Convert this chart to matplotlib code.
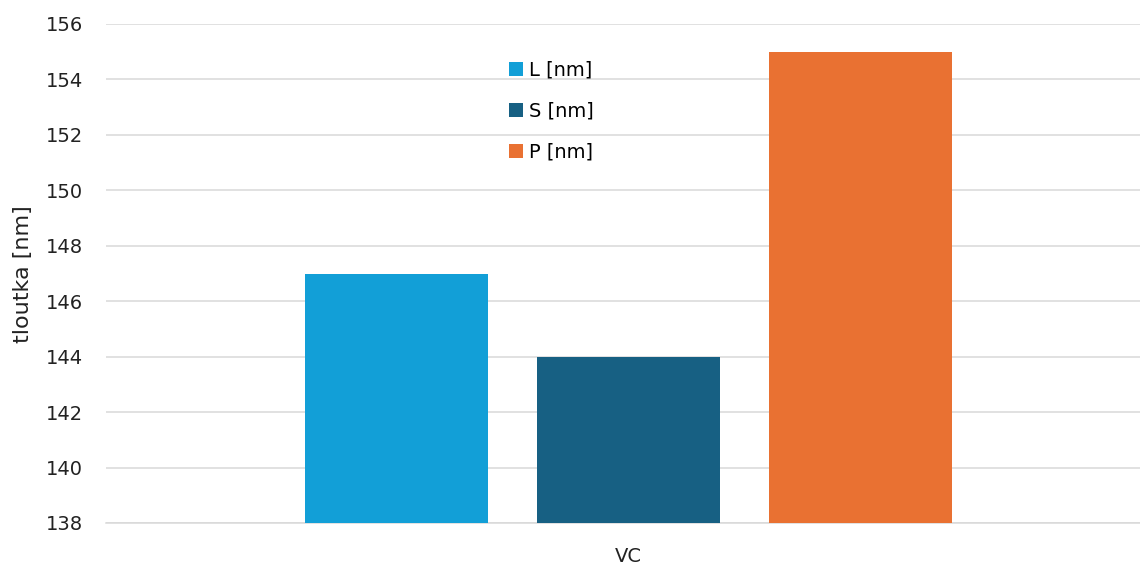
import numpy as np
import matplotlib.pyplot as plt

plt.rcParams['font.family'] = ['DejaVu Sans']

# data
category = 'VC'
series = ['L [nm]', 'S [nm]', 'P [nm]']
values = [147, 144, 155]
colors = ['#129FD7', '#176083', '#E97132']
yticks = np.arange(138, 157, 2)

fig = plt.figure(figsize=(11.4, 5.65), dpi=100)
ax = fig.add_axes([106 / 1140, 42 / 565, (1140 - 106) / 1140, (523 - 24) / 565])

offsets = np.arange(len(series)) - 1
for off, val, col, lab in zip(offsets, values, colors, series):
    ax.bar(off, val - 138, bottom=138, width=0.79, color=col, label=lab, zorder=3)

ax.set_ylim(138, 156)
ax.set_xlim(-2.252, 2.205)
ax.set_yticks(yticks)
ax.set_yticklabels([str(t) for t in yticks], fontsize=14, color='#222222')
ax.set_xticks([0])
ax.set_xticklabels([category], fontsize=14, color='#222222')
ax.tick_params(axis='y', length=0, pad=16.5)
ax.tick_params(axis='x', length=0, pad=17)
ax.yaxis.grid(True, color='#D9D9D9', linewidth=1.1, zorder=0)
for s in ['top', 'right', 'left']:
    ax.spines[s].set_visible(False)
ax.spines['bottom'].set_color('#D9D9D9')
ax.spines['bottom'].set_linewidth(1.1)

fig.text(23 / 1140, 1 - 274 / 565, 'tloutka [nm]', rotation=90, fontsize=16,
         color='#222222', ha='center', va='center')

ax.legend(loc='upper left', bbox_to_anchor=(509 / 1140, 1 - 60.5 / 565),
          bbox_transform=fig.transFigure, frameon=False, fontsize=14,
          handlelength=0.72, handleheight=0.72, handletextpad=0.31,
          labelspacing=1.13, borderpad=0, borderaxespad=0)

fig.savefig('out.png', dpi=100, facecolor='white')
